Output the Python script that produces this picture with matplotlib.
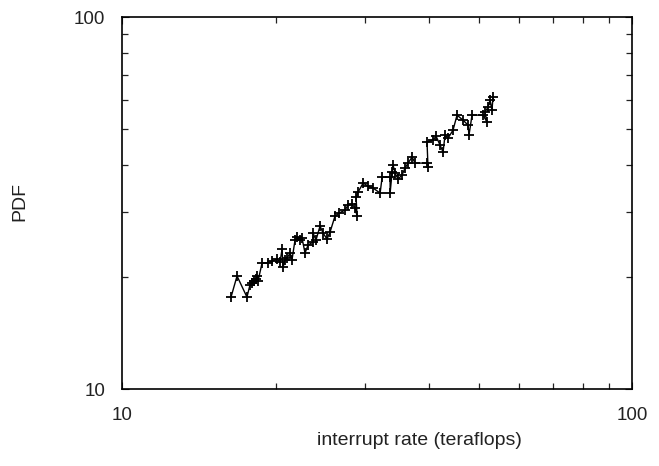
import matplotlib
matplotlib.use("Agg")
import matplotlib.pyplot as plt
from matplotlib.ticker import NullFormatter

plt.rcParams['font.family'] = ['Liberation Sans', 'DejaVu Sans']

# interrupt rate (teraflops) vs PDF
rate = [16.36, 16.81, 17.58, 17.82, 17.98, 18.15, 18.31, 18.40, 18.48, 18.82,
        19.34, 19.69, 20.14, 20.41, 20.60, 20.69, 20.88, 21.07, 21.36, 21.54,
        21.84, 22.03, 22.34, 22.54, 22.85, 23.16, 23.69, 23.69, 24.01, 24.45,
        24.79, 25.23, 25.58, 26.16, 26.64, 27.37, 27.75, 28.25, 28.64, 28.90,
        28.77, 29.03, 29.70, 30.38, 31.07, 32.07, 32.36, 33.55, 33.55, 33.85,
        34.00, 34.31, 34.78, 35.40, 35.89, 36.38, 37.05, 37.55, 39.63, 39.81,
        39.63, 40.72, 41.28, 42.03, 42.61, 42.99, 43.58, 44.57, 45.38, 46.62,
        47.69, 47.90, 48.56, 51.03, 51.96, 51.49, 52.19, 52.67, 53.14, 53.38]
pdf = [17.67, 20.13, 17.67, 19.04, 19.27, 19.51, 19.75, 20.13, 19.51, 21.82,
       21.82, 22.08, 22.36, 21.94, 23.78, 21.28, 22.22, 22.50, 23.21, 22.22,
       25.15, 25.62, 25.15, 25.46, 23.21, 24.38, 24.84, 26.26, 25.15, 27.43,
       26.26, 25.31, 26.42, 29.18, 29.72, 30.28, 31.23, 31.43, 30.66, 29.18,
       32.82, 33.85, 35.79, 35.13, 34.70, 33.64, 37.14, 37.14, 33.64, 38.32,
       40.02, 38.07, 36.68, 37.61, 39.28, 40.51, 42.05, 40.51, 40.51, 39.53,
       46.13, 46.71, 47.87, 45.28, 43.37, 48.17, 47.29, 49.68, 54.52, 52.86,
       51.25, 48.17, 54.52, 54.52, 52.21, 55.53, 57.29, 59.82, 56.23, 60.95]

fig = plt.figure(figsize=(6.59, 4.66), dpi=100)
ax = fig.add_axes([0.1851, 0.1652, 0.774, 0.798])

ax.plot(rate, pdf, color='black', linewidth=1, marker='+',
        markersize=7, markeredgewidth=1.3)

ax.set_xscale('log')
ax.set_yscale('log')
ax.set_xlim(10, 100)
ax.set_ylim(10, 100)
ax.set_xticks([10, 100])
ax.set_xticklabels(['10', '100'])
ax.set_yticks([10, 100])
ax.set_yticklabels(['10', '100'])
ax.xaxis.set_minor_formatter(NullFormatter())
ax.yaxis.set_minor_formatter(NullFormatter())

ax.tick_params(which='both', direction='in', top=True, right=True,
               labelsize=13.5, colors='#222222')
ax.tick_params(axis='y', pad=12)
ax.tick_params(axis='x', pad=13)
ax.tick_params(which='major', length=5)
ax.tick_params(which='minor', length=4, width=0.9)
for s in ax.spines.values():
    s.set_linewidth(1.2)

ax.set_xlabel('interrupt rate (teraflops)', fontsize=14, color='#222222')
ax.set_ylabel('PDF', fontsize=14, color='#222222')
ax.xaxis.set_label_coords(0.583, -0.115)
ax.yaxis.set_label_coords(-0.184, 0.505)

fig.savefig('out.png', dpi=100)
